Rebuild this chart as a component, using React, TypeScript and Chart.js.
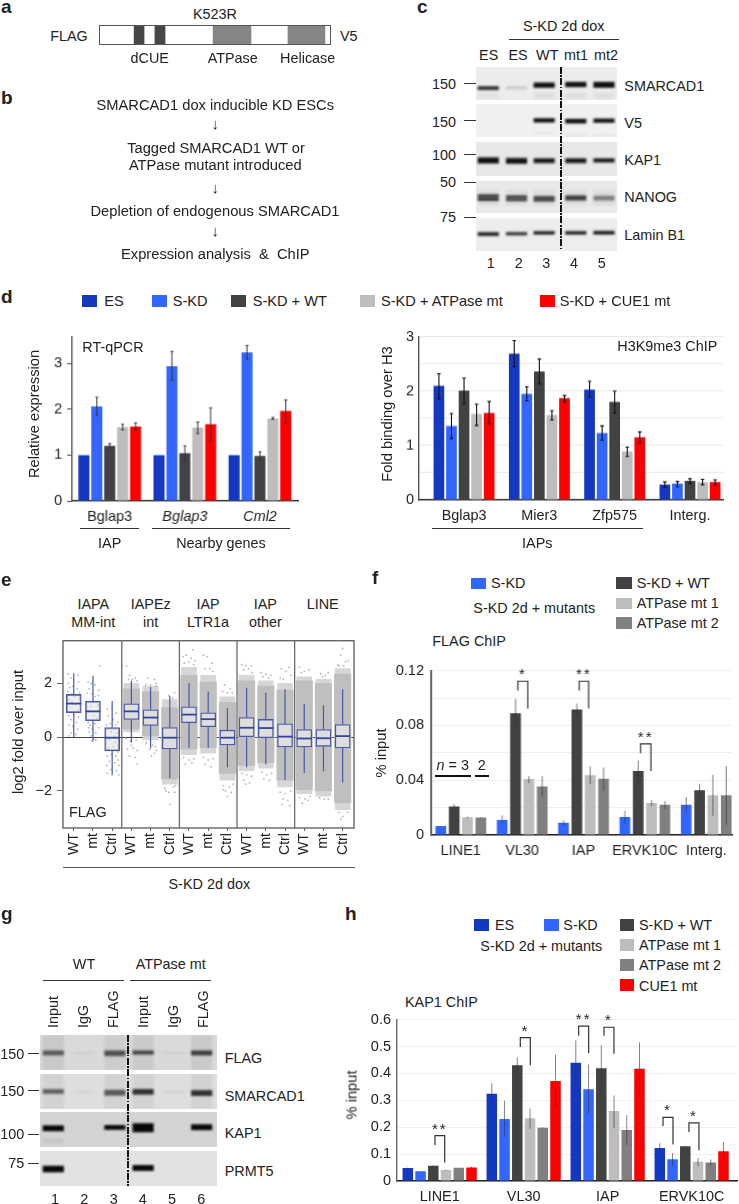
import React, { useEffect, useRef } from "react";
import { Chart, registerables } from "chart.js";

Chart.register(...registerables);
const FONT = '"Liberation Sans", Arial, sans-serif';
Chart.defaults.font.family = FONT;
Chart.defaults.color = "#222";

/* ---------- colours ---------- */
const cES = "#1438c0";
const cSKD = "#3366ff";
const cWT = "#424242";
const cATP = "#bdbdbd";
const cMT2 = "#808080";
const cCUE = "#ff0000";
const boxBlue = "#4a5aa8";

/* ---------- panel d, RT-qPCR ---------- */
const dLeftGroups = ["Bglap3", "Bglap3", "Cml2"];
const dLeftColors = [cES, cSKD, cWT, cATP, cCUE];
const dLeftValues = [
  [1, 1, 1],
  [2.06, 2.94, 3.24],
  [1.2, 1.04, 0.98],
  [1.61, 1.6, 1.8],
  [1.62, 1.67, 1.96],
];
const dLeftHi = [
  [null, null, null],
  [2.26, 3.26, 3.39],
  [1.25, 1.2, 1.07],
  [1.67, 1.72, 1.82],
  [1.7, 2.03, 2.2],
];
const dLeftLo = [
  [null, null, null],
  [1.87, 2.63, 3.09],
  [1.15, 0.88, 0.88],
  [1.55, 1.47, 1.78],
  [1.55, 1.32, 1.7],
];

/* ---------- panel d, H3K9me3 ---------- */
const dRightGroups = ["Bglap3", "Mier3", "Zfp575", "Interg."];
const dRightValues = [
  [2.1, 2.69, 2.03, 0.28],
  [1.36, 1.95, 1.23, 0.3],
  [2.01, 2.36, 1.8, 0.35],
  [1.58, 1.56, 0.89, 0.33],
  [1.6, 1.87, 1.15, 0.33],
];
const dRightHi = [
  [2.32, 2.93, 2.18, 0.33],
  [1.59, 2.08, 1.36, 0.34],
  [2.24, 2.59, 2.0, 0.39],
  [1.76, 1.64, 0.97, 0.38],
  [1.81, 1.92, 1.25, 0.37],
];
const dRightLo = [
  [1.86, 2.45, 1.89, 0.23],
  [1.13, 1.82, 1.1, 0.24],
  [1.77, 2.13, 1.6, 0.3],
  [1.37, 1.47, 0.8, 0.28],
  [1.4, 1.8, 1.05, 0.28],
];

/* ---------- panel e ---------- */
const ePositions = [1, 2, 3, 4, 5, 6, 7, 8, 9, 10, 11, 12, 13, 14, 15];
const eTickLabels = ["WT", "mt", "Ctrl", "WT", "mt", "Ctrl", "WT", "mt", "Ctrl", "WT", "mt", "Ctrl", "WT", "mt", "Ctrl"];
const eQ1 = [0.91, 0.61, -0.51, 0.66, 0.44, -0.44, 0.54, 0.39, -0.29, 0, -0.02, -0.36, -0.36, -0.34, -0.4];
const eQ3 = [1.59, 1.34, 0.36, 1.24, 1.02, 0.36, 1.13, 0.91, 0.26, 0.73, 0.66, 0.5, 0.28, 0.28, 0.47];
const eMedian = [1.25, 0.96, -0.02, 0.96, 0.73, -0.02, 0.84, 0.67, -0.02, 0.35, 0.34, 0.02, -0.05, -0.04, 0.04];
const eWhiskerTop = [2.38, 2.29, 1.35, 2.1, 1.87, 1.53, 2.02, 1.7, 1.09, 1.84, 1.65, 1.78, 1.23, 1.19, 1.78];
const eWhiskerBottom = [0, -0.15, -1.39, -0.2, -0.41, -1.53, -0.39, -0.39, -1.12, -1.12, -1.02, -1.6, -1.33, -1.27, -1.69];
const eCloudPositions = [4, 5, 6, 7, 8, 9, 10, 11, 12, 13, 14, 15];
const eFringeTop = [2.0, 1.9, 1.4, 2.6, 2.3, 1.5, 2.3, 2.1, 2.0, 2.25, 2.15, 2.55];
const eFringeBottom = [0.2, -0.1, -1.75, -0.65, -0.6, -1.6, -1.25, -1.15, -1.85, -2.1, -2.2, -2.7];
const eCoreTop = [1.8, 1.7, 1.1, 2.3, 2.05, 1.3, 2.1, 1.9, 1.75, 2.1, 2.0, 2.35];
const eCoreBottom = [0.3, 0.05, -1.55, -0.45, -0.4, -1.35, -1.05, -0.95, -1.6, -1.95, -2.0, -2.45];
const eSeparators = [3.5, 6.5, 9.5, 12.5];
const eStrayPoints = [
  [0.72,2.35],[0.85,2.2],[1.22,2.3],[0.72,2.0],[1.25,2.05],[0.8,1.85],[1.18,1.8],[0.7,1.7],[0.95,1.9],[1.3,1.65],[0.75,1.4],[0.9,1.3],[1.1,1.2],[1.2,1.0],[0.8,1.1],[1.0,0.85],[0.72,0.8],[1.25,0.75],[0.85,0.65],[1.15,0.55],[0.75,0.45],[0.95,0.4],[1.2,0.3],[0.85,0.15],[1.1,0.1],[0.75,0.05],[0.9,1.6],[1.05,1.5],[1.28,1.45],[0.82,0.95],
  [2.35,2.65],[1.75,2.05],[1.9,2.0],[2.1,1.95],[1.8,1.8],[2.3,1.75],[1.72,1.65],[1.95,1.6],[2.28,1.55],[2.1,1.5],[2.25,1.2],[1.9,1.15],[2.05,0.8],[2.2,0.7],[1.75,0.55],[1.85,0.45],[2.1,0.5],[2.3,0.35],[1.95,0.3],[1.8,0.2],[2.15,0.15],[1.9,0.05],[2.05,-0.05],[1.95,-0.15],[2.15,-0.1],[1.78,0.35],[2.0,0.95],
  [3.0,1.1],[2.75,1.05],[3.2,0.9],[2.8,0.8],[3.05,0.65],[3.3,0.55],[2.7,0.45],[2.9,0.5],[3.2,0.45],[3.35,0.3],[2.95,0.2],[3.25,0.15],[3.1,0.05],[2.85,-0.1],[3.15,-0.2],[3.32,-0.3],[2.8,-0.4],[3.05,-0.35],[3.3,-0.55],[2.75,-0.7],[2.95,-0.65],[3.2,-0.7],[3.3,-0.85],[2.85,-0.9],[3.15,-0.95],[3.35,-1.05],[2.72,-1.05],[2.95,-1.2],[3.22,-1.25],[3.0,-1.4],[2.75,-1.35],[3.35,-1.4],
  [3.75,2.65],[3.9,2.3],[4.2,2.2],[3.85,2.15],[4.3,2.1],[4.05,2.15],[3.72,-0.05],[4.25,-0.1],[4.0,-0.3],[3.8,-0.45],[4.1,-0.4],[4.3,-0.5],[3.9,-0.7],[4.2,-0.75],[3.95,-0.15],[4.3,-1.0],
  [4.85,2.2],[5.2,2.15],[5.28,2.0],[4.75,1.95],[5.0,1.95],[5.3,1.9],[4.8,-0.2],[5.1,-0.3],[5.25,-0.35],[4.95,-0.45],[5.2,-0.6],[5.05,-0.7],[4.75,-0.25],[5.3,-0.5],
  [6.25,1.65],[5.95,1.55],[6.15,1.45],[5.75,-1.9],[6.2,-1.85],[5.95,-2.05],[6.25,-2.05],[6.0,-2.5],[5.8,-2.0],[6.3,-1.8],
  [6.7,3.0],[6.85,3.05],[7.1,2.95],[7.2,3.25],[7.3,2.85],[6.75,2.75],[7.0,2.8],[7.25,2.7],[6.72,-0.75],[7.0,-0.85],[7.25,-0.8],[6.8,-1.0],[7.15,-0.95],
  [7.75,3.05],[7.95,3.0],[8.2,2.75],[8.1,2.55],[7.85,2.55],[8.25,2.45],[7.75,-0.75],[8.0,-0.85],[8.25,-0.8],[7.85,-1.0],[8.15,-1.1],
  [8.85,1.95],[9.15,1.8],[8.75,1.7],[9.0,1.65],[9.25,1.65],[8.8,-1.8],[9.1,-1.85],[9.3,-1.75],[8.9,-2.0],[9.2,-2.05],[9.0,-2.2],[8.78,-1.95],
  [9.75,2.7],[9.95,2.65],[10.25,2.65],[10.1,2.55],[9.85,2.5],[10.3,2.4],[9.75,-1.35],[10,-1.4],[10.25,-1.45],[9.85,-1.6],[10.15,-1.7],[9.95,-1.75],
  [10.75,2.4],[11.0,2.35],[11.25,2.3],[10.85,2.25],[11.15,2.2],[10.8,-1.3],[11.05,-1.4],[11.3,-1.35],[10.9,-1.55],[11.2,-1.6],
  [11.8,2.55],[12.2,2.6],[12.05,2.45],[11.75,2.2],[12.3,2.3],[11.9,2.15],[11.75,-2.05],[12.0,-2.1],[12.3,-2.0],[11.9,-2.3],[12.15,-2.35],[11.85,-2.5],[12.25,-2.55],
  [12.75,2.6],[13.0,2.45],[13.25,2.5],[12.85,2.4],[12.75,-2.25],[13.05,-2.3],[13.3,-2.2],[12.9,-2.45],[13.2,-2.35],
  [13.85,2.35],[14.1,2.3],[14.25,2.4],[13.95,2.25],[13.8,-2.25],[14.05,-2.3],[14.25,-2.3],
  [14.8,2.65],[15.0,3.3],[14.9,3.05],[15.15,2.8],[15.3,2.85],[14.75,2.7],[15.05,2.65],[14.8,-2.8],[15.0,-2.95],[15.25,-2.8],[14.9,-3.05],
];

/* ---------- panel f ---------- */
const fGroups = ["LINE1", "VL30", "IAP", "ERVK10C", "Interg."];
const fColors = [cSKD, cWT, cATP, cMT2];
const fValues = [
  [0.0066, 0.011, 0.0089, 0.0132, 0.0221],
  [0.0209, 0.089, 0.0917, 0.0468, 0.0327],
  [0.0129, 0.0409, 0.0437, 0.0233, 0.0291],
  [0.0127, 0.0355, 0.0411, 0.0221, 0.0291],
];
const fHi = [
  [null, 0.0143, 0.0108, 0.0176, 0.0277],
  [0.0226, 0.0994, 0.096, 0.0543, 0.0374],
  [0.0134, 0.043, 0.05, 0.0254, 0.0439],
  [0.013, 0.043, 0.0494, 0.0249, 0.0503],
];
const fLo = [
  [null, 0.0085, 0.007, 0.0085, 0.0167],
  [0.0193, 0.079, 0.0865, 0.039, 0.028],
  [0.0122, 0.0378, 0.0371, 0.0212, 0.0141],
  [0.0124, 0.028, 0.0327, 0.019, 0.0075],
];
const fBrackets = [
  { x0: 1.929, y0: 0.1055, x1: 2.092, y1: 0.0924, top: 0.1123, label: "*" },
  { x0: 2.929, y0: 0.1055, x1: 3.082, y1: 0.0924, top: 0.1123, label: "**" },
  { x0: 3.929, y0: 0.0597, x1: 4.098, y1: 0.0468, top: 0.0665, label: "**" },
];

/* ---------- panel h ---------- */
const hGroups = ["LINE1", "VL30", "IAP", "ERVK10C"];
const hColors = [cES, cSKD, cWT, cATP, cMT2, cCUE];
const hValues = [
  [0.048, 0.325, 0.44, 0.123],
  [0.036, 0.231, 0.341, 0.081],
  [0.0566, 0.431, 0.419, 0.129],
  [0.041, 0.233, 0.26, 0.072],
  [0.049, 0.198, 0.19, 0.069],
  [0.05, 0.372, 0.418, 0.111],
];
const hHi = [
  [0.05, 0.364, 0.523, 0.141],
  [0.037, 0.298, 0.433, 0.104],
  [0.058, 0.46, 0.505, 0.131],
  [0.043, 0.269, 0.318, 0.086],
  [null, 0.2, 0.245, 0.08],
  [0.053, 0.47, 0.516, 0.145],
];
const hLo = [
  [0.046, 0.287, 0.357, 0.105],
  [0.035, 0.164, 0.251, 0.055],
  [0.055, 0.401, 0.329, 0.127],
  [0.039, 0.194, 0.196, 0.055],
  [null, 0.196, 0.134, 0.057],
  [0.047, 0.269, 0.317, 0.075],
];
const hBrackets = [
  { x0: 0.944, y0: 0.134, x1: 1.06, y1: 0.069, top: 0.169, label: "**" },
  { x0: 1.96, y0: 0.498, x1: 2.079, y1: 0.431, top: 0.533, label: "*" },
  { x0: 2.655, y0: 0.54, x1: 2.774, y1: 0.476, top: 0.576, label: "**" },
  { x0: 2.956, y0: 0.54, x1: 3.075, y1: 0.473, top: 0.572, label: "*" },
  { x0: 3.659, y0: 0.205, x1: 3.778, y1: 0.136, top: 0.237, label: "*" },
  { x0: 3.968, y0: 0.182, x1: 4.087, y1: 0.114, top: 0.216, label: "*" },
];

/* ---------- panel a, domains along the protein (% of length) ---------- */
const domainRanges = [
  [15.2, 19.5],
  [24.2, 28.6],
  [49.4, 65.8],
  [81.8, 97.8],
];
const domainColors = ["#474747", "#474747", "#858585", "#858585"];

/* ---------- blots: [lane, from %, to %, density] ---------- */
const cLanes = [1, 2, 2.98, 4.1, 5.1];
const cSmarcad1 = [[1,59,69,0.8],[2,59,67,0.14],[3,48,62,0.97],[4,46,60,0.97],[5,46,62,0.97],[1,78,96,0.04],[3,78,96,0.05],[4,78,96,0.05],[5,78,96,0.05]];
const cV5 = [[3,44,55,0.97],[4,46,58,0.97],[5,45,56,0.95],[3,86,89,0.05],[4,93,97,0.07],[5,92,96,0.05]];
const cKap1 = [[1,46,62,0.97],[2,48,63,0.97],[3,49,61,0.95],[4,49,61,0.95],[5,49,59,0.95]];
const cNanog = [[1,30,75,0.05],[2,30,75,0.05],[3,30,75,0.05],[4,30,75,0.05],[5,30,75,0.05],[1,43,50,0.85],[1,54,61,0.85],[2,46,52,0.8],[2,56,62,0.8],[3,48,54,0.75],[3,57,63,0.8],[4,46,60,0.75],[5,47,60,0.45]];
const cLamin = [[1,44,53,0.95],[2,44,51,0.9],[3,41,49,0.95],[4,41,49,0.95],[5,40,49,0.95]];
const gLanes = [1, 2.02, 3.05, 3.99, 4.99, 5.94];
const gFlag = [[1,0,100,0.08],[3,0,100,0.06],[4,0,100,0.07],[6,0,100,0.07],[1,45,57,0.6],[2,50,56,0.05],[3,45,59,0.65],[4,45,55,0.7],[5,49,55,0.05],[6,45,57,0.75]];
const gSmarcad1 = [[1,0,100,0.05],[3,0,100,0.05],[4,0,100,0.05],[6,0,100,0.05],[1,44,56,0.55],[2,48,54,0.04],[3,46,61,0.6],[4,44,58,0.8],[5,49,54,0.06],[6,47,62,0.8]];
const gKap1 = [[1,39,54,1],[3,38,50,1],[4,33,57,1],[6,36,51,1],[1,75,90,0.06]];
const gPrmt5 = [[1,43,60,1],[4,41,56,1]];

/* ---------- plugins ---------- */
const errorBars = {
  id: "errorBars",
  afterDatasetsDraw(chart: any, _a: any, o: any) {
    const { ctx, scales } = chart;
    ctx.save();
    ctx.strokeStyle = o.color;
    ctx.lineWidth = o.width;
    chart.data.datasets.forEach((ds: any, di: number) => {
      if (!ds.errHi) return;
      const meta = chart.getDatasetMeta(di);
      meta.data.forEach((bar: any, i: number) => {
        const hi = ds.errHi[i];
        const lo = ds.errLo[i];
        if (hi == null || lo == null) return;
        const yh = scales.y.getPixelForValue(hi);
        const yl = scales.y.getPixelForValue(lo);
        ctx.beginPath();
        ctx.moveTo(bar.x, yh);
        ctx.lineTo(bar.x, yl);
        if (o.cap) {
          ctx.moveTo(bar.x - o.cap, yh);
          ctx.lineTo(bar.x + o.cap, yh);
          ctx.moveTo(bar.x - o.cap, yl);
          ctx.lineTo(bar.x + o.cap, yl);
        }
        ctx.stroke();
      });
    });
    ctx.restore();
  },
};

const brackets = {
  id: "brackets",
  afterDatasetsDraw(chart: any, _a: any, o: any) {
    if (!o.items) return;
    const { ctx, scales } = chart;
    ctx.save();
    ctx.strokeStyle = "#333";
    ctx.lineWidth = 1.2;
    ctx.fillStyle = "#222";
    ctx.font = `15px ${FONT}`;
    ctx.textAlign = "center";
    (ctx as any).letterSpacing = "2px";
    o.items.forEach((b: any) => {
      const x0 = scales.x.getPixelForValue(b.x0);
      const x1 = scales.x.getPixelForValue(b.x1);
      const t = scales.y.getPixelForValue(b.top);
      ctx.beginPath();
      ctx.moveTo(x0, scales.y.getPixelForValue(b.y0));
      ctx.lineTo(x0, t);
      ctx.lineTo(x1, t);
      ctx.lineTo(x1, scales.y.getPixelForValue(b.y1));
      ctx.stroke();
      ctx.fillText(b.label, (x0 + x1) / 2, t - 2);
    });
    ctx.restore();
  },
};

const boxParts = {
  id: "boxParts",
  beforeDatasetsDraw(chart: any) {
    const { ctx, chartArea: a, scales } = chart;
    ctx.save();
    ctx.strokeStyle = "#6a6a6a";
    ctx.lineWidth = 1.3;
    eSeparators.forEach((v) => {
      const x = scales.x.getPixelForValue(v);
      ctx.beginPath();
      ctx.moveTo(x, a.top);
      ctx.lineTo(x, a.bottom);
      ctx.stroke();
    });
    ctx.restore();
  },
  afterDatasetsDraw(chart: any) {
    const { ctx, chartArea: a, scales } = chart;
    ctx.save();
    ctx.strokeStyle = boxBlue;
    ctx.lineWidth = 1.2;
    ePositions.forEach((p, i) => {
      const x = scales.x.getPixelForValue(p);
      ctx.beginPath();
      ctx.moveTo(x, scales.y.getPixelForValue(eWhiskerTop[i]));
      ctx.lineTo(x, scales.y.getPixelForValue(eQ3[i]));
      ctx.moveTo(x, scales.y.getPixelForValue(eQ1[i]));
      ctx.lineTo(x, scales.y.getPixelForValue(eWhiskerBottom[i]));
      ctx.stroke();
    });
    ctx.strokeStyle = "#33469e";
    ctx.lineWidth = 1.8;
    ePositions.forEach((p, i) => {
      const x = scales.x.getPixelForValue(p);
      const y = scales.y.getPixelForValue(eMedian[i]);
      ctx.beginPath();
      ctx.moveTo(x - 7.5, y);
      ctx.lineTo(x + 7.5, y);
      ctx.stroke();
    });
    ctx.strokeStyle = "#666";
    ctx.lineWidth = 1.4;
    ctx.strokeRect(a.left, a.top, a.right - a.left, a.bottom - a.top);
    ctx.restore();
  },
};

/* ---------- chart builders ---------- */
function groupedBars(c: any) {
  const { plot, ml, mr, mt, mb } = c;
  return {
    box: { left: plot.l - ml, top: plot.t - mt, width: plot.r - plot.l + ml + mr, height: plot.b - plot.t + mt + mb },
    config: {
      type: "bar",
      data: {
        datasets: c.values.map((vals: number[], s: number) => ({
          data: vals.map((v, i) => ({ x: i + 1, y: v })),
          backgroundColor: c.colors[s],
          errHi: c.hi[s],
          errLo: c.lo[s],
          categoryPercentage: c.catPct,
          barPercentage: c.barPct,
        })),
      },
      plugins: [errorBars, brackets],
      options: {
        responsive: false,
        animation: false,
        layout: { padding: { top: mt, right: mr, left: 0, bottom: 0 } },
        plugins: {
          legend: { display: false },
          tooltip: { enabled: false },
          errorBars: c.err,
          brackets: { items: c.brackets },
        },
        scales: {
          x: {
            type: "linear",
            offset: false,
            min: c.xmin,
            max: c.xmax,
            afterFit: (s: any) => { s.height = mb; },
            grid: { display: false, offset: false, drawTicks: false },
            border: { display: true, color: c.xBorder || "#333", width: 1.4 },
            ticks: {
              stepSize: 1,
              includeBounds: false,
              autoSkip: false,
              maxRotation: 0,
              minRotation: 0,
              padding: c.xPad,
              color: "#222",
              font: c.xFont || { size: 14.4 },
              callback: (v: number) => c.groups[v - 1] ?? "",
            },
          },
          y: {
            min: c.ymin,
            max: c.ymax,
            afterFit: (s: any) => { s.width = ml; },
            grid: {
              color: (ctx: any) => c.gridColor,
              drawOnChartArea: !!c.gridColor,
              drawTicks: !!c.tickLen,
              tickLength: c.tickLen || 0,
              tickColor: "#444",
            },
            border: { display: true, color: c.yBorder || "#555", width: c.yBorderWidth || 1.4 },
            ticks: {
              stepSize: c.step,
              includeBounds: false,
              autoSkip: false,
              padding: c.yPad,
              color: "#222",
              font: { size: 14.5 },
              callback: c.yLabel,
            },
          },
        },
      },
    },
  };
}

function blotConfig(rows: number[][], xmin: number, xmax: number, laneX: number[], thickness: number) {
  return {
    type: "bar",
    data: {
      datasets: [
        {
          data: rows.map((r) => ({ x: laneX[r[0] - 1], y: [r[1], r[2]] })),
          backgroundColor: rows.map((r) => `rgba(8,8,8,${r[3]})`),
          barThickness: thickness,
          borderSkipped: false,
        },
      ],
    },
    options: {
      responsive: false,
      animation: false,
      layout: { padding: 0 },
      plugins: { legend: { display: false }, tooltip: { enabled: false } },
      scales: {
        x: { type: "linear", offset: false, min: xmin, max: xmax, display: false, grid: { offset: false } },
        y: { min: 0, max: 100, reverse: true, display: false },
      },
    },
  };
}

const dLeft = groupedBars({
  plot: { l: 72, t: 333.3, r: 297.5, b: 500.7 }, ml: 50, mr: 4, mt: 10, mb: 28,
  groups: dLeftGroups, values: dLeftValues, hi: dLeftHi, lo: dLeftLo, colors: dLeftColors,
  xmin: 0.5, xmax: 3.507, ymin: 0, ymax: 3.58, step: 1, catPct: 0.86, barPct: 0.853,
  err: { color: "#333", width: 1, cap: 1.5 }, xPad: 7, yPad: 5, tickLen: 5, yLabel: (v: number) => String(v),
  xFont: (ctx: any) => ({ size: 14.4, style: ctx.index === 0 ? "normal" : "italic" }),
});
const dRight = groupedBars({
  plot: { l: 418.7, t: 333.3, r: 722.7, b: 500 }, ml: 30, mr: 8, mt: 10, mb: 28,
  groups: dRightGroups, values: dRightValues, hi: dRightHi, lo: dRightLo, colors: dLeftColors,
  xmin: 0.402, xmax: 4.438, ymin: 0, ymax: 3, step: 0.5, catPct: 0.834, barPct: 0.85, gridColor: "#e9e9e9",
  err: { color: "#111", width: 1.1, cap: 1.8 }, xPad: 7, yPad: 5,
  yLabel: (v: number) => (Number.isInteger(v) ? String(v) : ""),
});
const fChart = groupedBars({
  plot: { l: 431, t: 665, r: 731.7, b: 835.3 }, ml: 50, mr: 6, mt: 10, mb: 26,
  groups: fGroups, values: fValues, hi: fHi, lo: fLo, colors: fColors, brackets: fBrackets,
  xmin: 0.516, xmax: 5.42, ymin: 0, ymax: 0.12, step: 0.02, catPct: 0.87, barPct: 0.8, gridColor: "#efefef",
  err: { color: "rgba(50,50,50,0.65)", width: 1, cap: 0 }, xPad: 7, yPad: 7, yBorder: "#666", yBorderWidth: 2, xBorder: "#222",
  yLabel: (v: number) => {
    const k = Math.round(v * 100);
    return v === 0 ? "0" : k % 4 === 0 ? (k / 100).toFixed(2) : "";
  },
});
const hChart = groupedBars({
  plot: { l: 396.7, t: 1015, r: 736.7, b: 1181 }, ml: 50, mr: 2, mt: 10, mb: 23,
  groups: hGroups, values: hValues, hi: hHi, lo: hLo, colors: hColors, brackets: hBrackets,
  xmin: 0.492, xmax: 4.54, ymin: 0, ymax: 0.6, step: 0.1, catPct: 0.91, barPct: 0.825, gridColor: "#efefef",
  err: { color: "rgba(50,50,50,0.6)", width: 1, cap: 0 }, xPad: 7, yPad: 6, yBorder: "#666", xBorder: "#222",
  yLabel: (v: number) => (v === 0 ? "0" : v.toFixed(1)),
});

const eChart = {
  box: { left: 23, top: 627, width: 339, height: 240 },
  config: {
    type: "bar",
    data: {
      datasets: [
        {
          data: ePositions.map((p, i) => ({ x: p, y: [eQ1[i], eQ3[i]] })),
          backgroundColor: ePositions.map((p) => (p < 4 ? "rgba(224,224,224,0.55)" : "#dedede")),
          borderColor: boxBlue,
          borderWidth: 1.3,
          borderSkipped: false,
          barThickness: 15,
          grouped: false,
          order: 1,
        },
        {
          type: "scatter",
          data: eStrayPoints.map((p) => ({ x: p[0], y: p[1] })),
          backgroundColor: "#b4b4b4",
          pointRadius: 0.9,
          pointBorderWidth: 0,
          order: 2,
        },
        {
          data: eCloudPositions.map((p, i) => ({ x: p, y: [eCoreBottom[i], eCoreTop[i]] })),
          backgroundColor: "#bfbfbf",
          borderSkipped: false,
          barThickness: 16.5,
          grouped: false,
          order: 3,
        },
        {
          data: eCloudPositions.map((p, i) => ({ x: p, y: [eFringeBottom[i], eFringeTop[i]] })),
          backgroundColor: "#d6d6d6",
          borderSkipped: false,
          barThickness: 15,
          grouped: false,
          order: 4,
        },
      ],
    },
    plugins: [boxParts],
    options: {
      responsive: false,
      animation: false,
      layout: { padding: { top: 10, right: 8, left: 0, bottom: 0 } },
      plugins: { legend: { display: false }, tooltip: { enabled: false } },
      scales: {
        x: {
          type: "linear",
          offset: false,
          min: 0.44,
          max: 15.59,
          afterFit: (s: any) => { s.height = 39; },
          grid: { display: true, drawOnChartArea: false, offset: false, tickLength: 3, tickColor: "#666" },
          border: { display: false },
          ticks: {
            stepSize: 1,
            includeBounds: false,
            autoSkip: false,
            minRotation: 90,
            maxRotation: 90,
            padding: 2,
            color: "#222",
            font: { size: 14.2 },
            callback: (v: number) => eTickLabels[v - 1] ?? "",
          },
        },
        y: {
          min: -3.38,
          max: 3.59,
          afterFit: (s: any) => { s.width = 40; },
          grid: {
            color: (ctx: any) => (ctx.tick && ctx.tick.value === 0 ? "#444" : "rgba(0,0,0,0)"),
            tickColor: "#666",
            tickLength: 6,
          },
          border: { display: false },
          ticks: {
            stepSize: 2,
            includeBounds: false,
            autoSkip: false,
            padding: 5,
            color: "#222",
            font: { size: 14.5 },
            callback: (v: number) => (v < 0 ? "\u2212" + Math.abs(v) : String(v)),
          },
        },
      },
    },
  },
};

const domainChart = {
  box: { left: 99, top: 25, width: 231, height: 19 },
  config: {
    type: "bar",
    data: {
      labels: ["SMARCAD1"],
      datasets: domainRanges.map((r, i) => ({
        data: [r],
        backgroundColor: domainColors[i],
        grouped: false,
        barPercentage: 1,
        categoryPercentage: 1,
      })),
    },
    options: {
      indexAxis: "y",
      responsive: false,
      animation: false,
      layout: { padding: 0 },
      plugins: { legend: { display: false }, tooltip: { enabled: false } },
      scales: {
        x: { type: "linear", min: 0, max: 100, display: false },
        y: { display: false },
      },
    },
  },
};

/* ---------- small drawing components ---------- */
function ChartBox({ spec, style }: any) {
  const ref = useRef<HTMLCanvasElement>(null);
  useEffect(() => {
    const chart = new Chart(ref.current as any, spec.config);
    return () => chart.destroy();
  }, [spec]);
  return (
    <canvas
      ref={ref}
      width={spec.box.width}
      height={spec.box.height}
      style={{ position: "absolute", left: spec.box.left, top: spec.box.top, width: spec.box.width, height: spec.box.height, ...style }}
    />
  );
}

function T({ x, y, a = "l", size = 14.4, bold, italic, children, rot, color = "#222" }: any) {
  const tx = a === "c" ? "-50%" : a === "r" ? "-100%" : "0";
  const style: any = {
    position: "absolute",
    left: x,
    top: y,
    font: `${italic ? "italic " : ""}${bold ? "bold " : ""}${size}px ${FONT}`,
    color,
    whiteSpace: "pre",
    lineHeight: 1.15,
    transform: rot === "c" ? "translate(-50%,-50%) rotate(-90deg)" : `translate(${tx},-50%)`,
  };
  if (rot === "b") {
    style.transform = "rotate(-90deg) translate(0,-50%)";
    style.transformOrigin = "0 0";
  }
  return <div style={style}>{children}</div>;
}

function H({ x0, x1, y, h = 1, color = "#333" }: any) {
  return <div style={{ position: "absolute", left: x0, top: y - h / 2, width: x1 - x0, height: h, background: color }} />;
}

function Swatch({ x, y, color, w = 14.6, h = 11.5 }: any) {
  return <div style={{ position: "absolute", left: x, top: y, width: w, height: h, background: color }} />;
}

function DashDot({ x, y0, y1 }: any) {
  return (
    <div
      style={{
        position: "absolute",
        left: x - 1,
        top: y0,
        width: 2,
        height: y1 - y0,
        background: "repeating-linear-gradient(to bottom,#111 0 7px,transparent 7px 8.5px,#111 8.5px 10px,transparent 10px 11.5px)",
      }}
    />
  );
}

function Strip({ l, t, w, h, bg, rows, xmin, xmax, lanes, thickness }: any) {
  const spec = React.useMemo(
    () => ({ box: { left: 0, top: 0, width: w, height: h }, config: blotConfig(rows, xmin, xmax, lanes, thickness) }),
    []
  );
  return (
    <div style={{ position: "absolute", left: l, top: t, width: w, height: h, background: bg, overflow: "hidden" }}>
      <ChartBox spec={spec} style={{ filter: "blur(1px)" }} />
    </div>
  );
}

export default function App() {
  const cStrip = { l: 476, w: 141.3, xmin: 0.565, xmax: 5.56, lanes: cLanes, thickness: 20.5 };
  const gStrip = { l: 40, w: 177, xmin: 0.557, xmax: 6.45, lanes: gLanes, thickness: 20.5 };
  return (
    <div style={{ position: "absolute", left: 0, top: 0, width: 739, height: 1204, overflow: "hidden", background: "#fff" }}>
      {/* a */}
      <T x={1} y={7} size={19} bold>a</T>
      <T x={215} y={14} a="c">K523R</T>
      <T x={69} y={36} a="c">FLAG</T>
      <T x={340} y={36}>V5</T>
      <ChartBox spec={domainChart} />
      <div style={{ position: "absolute", left: 98.5, top: 24.5, width: 230, height: 18, border: "1.5px solid #555" }} />
      <T x={149.7} y={58} a="c">dCUE</T>
      <T x={232.7} y={58} a="c">ATPase</T>
      <T x={307.7} y={58} a="c">Helicase</T>

      {/* b */}
      <T x={1} y={98} size={19} bold>b</T>
      <T x={215.3} y={104.7} a="c" size={14.7}>SMARCAD1 dox inducible KD ESCs</T>
      <T x={215.3} y={124} a="c" size={15}>↓</T>
      <T x={216} y={147.7} a="c" size={14.7}>Tagged SMARCAD1 WT or</T>
      <T x={215.3} y={165.3} a="c" size={14.7}>ATPase mutant introduced</T>
      <T x={215.3} y={188} a="c" size={15}>↓</T>
      <T x={215} y={210.7} a="c" size={14.7}>Depletion of endogenous SMARCAD1</T>
      <T x={215.3} y={230.7} a="c" size={15}>↓</T>
      <T x={215.3} y={254} a="c" size={14.7}>{"Expression analysis  &  ChIP"}</T>

      {/* c */}
      <T x={417} y={7} size={19} bold>c</T>
      <T x={563.7} y={26} a="c">S-KD 2d dox</T>
      <H x0={509} x1={619} y={39} />
      <T x={488.7} y={55} a="c">ES</T>
      <T x={518} y={55} a="c">ES</T>
      <T x={547.3} y={55} a="c">WT</T>
      <T x={576} y={55} a="c">mt1</T>
      <T x={606} y={55} a="c">mt2</T>
      <Strip {...cStrip} t={66.7} h={33.3} bg="#ececec" rows={cSmarcad1} />
      <Strip {...cStrip} t={104.3} h={33} bg="#f0f0f0" rows={cV5} />
      <Strip {...cStrip} t={142.3} h={33.7} bg="#e8e8e8" rows={cKap1} />
      <Strip {...cStrip} t={181} h={32.3} bg="#e9e9e9" rows={cNanog} />
      <Strip {...cStrip} t={218.3} h={32.4} bg="#ededed" rows={cLamin} />
      <DashDot x={561} y0={66.7} y1={250.7} />
      <T x={456} y={84.3} a="r">150</T>
      <T x={456} y={121.7} a="r">150</T>
      <T x={456} y={155} a="r">100</T>
      <T x={456} y={182} a="r">50</T>
      <T x={456} y={217.3} a="r">75</T>
      <H x0={464} x1={475.7} y={83.3} />
      <H x0={464} x1={475.7} y={120.7} />
      <H x0={464} x1={475.7} y={154} />
      <H x0={464} x1={475.7} y={182} />
      <H x0={464} x1={475.7} y={217} />
      <T x={624.3} y={85.7}>SMARCAD1</T>
      <T x={624.3} y={122.7}>V5</T>
      <T x={624.3} y={160}>KAP1</T>
      <T x={624.3} y={197.3}>NANOG</T>
      <T x={624.3} y={234.7}>Lamin B1</T>
      <T x={490.7} y={263.3} a="c">1</T>
      <T x={518.7} y={263.3} a="c">2</T>
      <T x={546.3} y={263.3} a="c">3</T>
      <T x={574} y={263.3} a="c">4</T>
      <T x={601.7} y={263.3} a="c">5</T>

      {/* d */}
      <T x={1} y={297} size={19} bold>d</T>
      <Swatch x={82.3} y={295.3} color={cES} />
      <T x={104.3} y={300.7} size={14.6}>ES</T>
      <Swatch x={152.3} y={295.3} color={cSKD} />
      <T x={172.7} y={300.7} size={14.6}>S-KD</T>
      <Swatch x={231.3} y={295.3} color={cWT} />
      <T x={252.7} y={300.7} size={14.6}>S-KD + WT</T>
      <Swatch x={360.3} y={295.3} color={cATP} />
      <T x={381} y={300.7} size={14.6}>S-KD + ATPase mt</T>
      <Swatch x={540.3} y={295.3} color={cCUE} />
      <T x={559.7} y={300.7} size={14.6}>S-KD + CUE1 mt</T>
      <ChartBox spec={dLeft} />
      <T x={82.3} y={346.7}>RT-qPCR</T>
      <T x={34.3} y={414.3} rot="c" size={14.7}>Relative expression</T>
      <H x0={80} x1={139.3} y={528.7} />
      <H x0={152} x1={290} y={528.7} />
      <T x={109.7} y={542.7} a="c">IAP</T>
      <T x={221} y={542.7} a="c">Nearby genes</T>
      <ChartBox spec={dRight} />
      <T x={717.3} y={346} a="r">H3K9me3 ChIP</T>
      <T x={387.3} y={414.3} rot="c" size={14.7}>Fold binding over H3</T>
      <H x0={432.3} x1={642.7} y={528.7} />
      <T x={537.3} y={542.7} a="c">IAPs</T>

      {/* e */}
      <T x={1} y={580} size={19} bold>e</T>
      <T x={93.3} y={604} a="c">IAPA</T>
      <T x={93.3} y={621.7} a="c">MM-int</T>
      <T x={150.7} y={604} a="c">IAPEz</T>
      <T x={150.7} y={621.7} a="c">int</T>
      <T x={208} y={604} a="c">IAP</T>
      <T x={208} y={621.7} a="c">LTR1a</T>
      <T x={265.3} y={604} a="c">IAP</T>
      <T x={265.3} y={621.7} a="c">other</T>
      <T x={322.7} y={604} a="c">LINE</T>
      <ChartBox spec={eChart} />
      <T x={18.3} y={731.7} rot="c" size={14.7}>log2 fold over input</T>
      <T x={69} y={812}>FLAG</T>
      <H x0={63.3} x1={355.3} y={867.7} color="#555" />
      <T x={209.3} y={884} a="c">S-KD 2d dox</T>

      {/* f */}
      <T x={372} y={578} size={19} bold>f</T>
      <Swatch x={471} y={577.7} color={cSKD} />
      <T x={491} y={583.3}>S-KD</T>
      <T x={534.3} y={608} a="c">S-KD 2d + mutants</T>
      <Swatch x={616} y={577.3} color={cWT} w={15.6} />
      <Swatch x={616} y={597.7} color={cATP} w={15.6} />
      <Swatch x={616} y={617.3} color={cMT2} w={15.6} />
      <T x={636.7} y={583}>S-KD + WT</T>
      <T x={636.7} y={603}>ATPase mt 1</T>
      <T x={636.7} y={623.3}>ATPase mt 2</T>
      <T x={432.3} y={641.3}>FLAG ChIP</T>
      <ChartBox spec={fChart} />
      <T x={380.7} y={753.3} rot="c" size={14.7}>% input</T>
      <T x={452.7} y={765} a="c"><i>n</i> = 3</T>
      <H x0={435} x1={470.7} y={775.7} h={2} color="#111" />
      <T x={481.7} y={765} a="c">2</T>
      <H x0={475.3} x1={488.7} y={775.7} h={2} color="#111" />

      {/* g */}
      <T x={1} y={914} size={19} bold>g</T>
      <T x={84} y={964} a="c">WT</T>
      <H x0={43.3} x1={124.3} y={980.3} />
      <T x={170.7} y={964} a="c">ATPase mt</T>
      <H x0={130} x1={211.3} y={980.3} />
      <T x={53.3} y={1027.7} rot="b">Input</T>
      <T x={83.3} y={1027.7} rot="b">IgG</T>
      <T x={113.3} y={1027.7} rot="b">FLAG</T>
      <T x={143.3} y={1027.7} rot="b">Input</T>
      <T x={173.3} y={1027.7} rot="b">IgG</T>
      <T x={203.3} y={1027.7} rot="b">FLAG</T>
      <Strip {...gStrip} t={1035.3} h={34.7} bg="#d9d9d9" rows={gFlag} />
      <Strip {...gStrip} t={1073.7} h={35} bg="#dedede" rows={gSmarcad1} />
      <Strip {...gStrip} t={1112} h={35.3} bg="#d4d4d4" rows={gKap1} />
      <Strip {...gStrip} t={1150.7} h={35} bg="#e2e2e2" rows={gPrmt5} />
      <DashDot x={128} y0={1035} y1={1186} />
      <T x={24.3} y={1053.7} a="r">150</T>
      <T x={24.3} y={1090.7} a="r">150</T>
      <T x={24.3} y={1134.3} a="r">100</T>
      <T x={24.3} y={1163} a="r">75</T>
      <H x0={28} x1={39.3} y={1053} />
      <H x0={28} x1={39.3} y={1090} />
      <H x0={28} x1={39.3} y={1134} />
      <H x0={28} x1={39.3} y={1163} />
      <T x={224.7} y={1058}>FLAG</T>
      <T x={224.7} y={1095.7}>SMARCAD1</T>
      <T x={224.7} y={1133.3}>KAP1</T>
      <T x={224.7} y={1170.7}>PRMT5</T>
      <T x={55} y={1199.3} a="c">1</T>
      <T x={84.3} y={1199.3} a="c">2</T>
      <T x={113.7} y={1199.3} a="c">3</T>
      <T x={142.7} y={1199.3} a="c">4</T>
      <T x={172} y={1199.3} a="c">5</T>
      <T x={201.3} y={1199.3} a="c">6</T>

      {/* h */}
      <T x={345} y={914} size={19} bold>h</T>
      <Swatch x={474.3} y={919.3} color={cES} />
      <T x={495} y={924.7}>ES</T>
      <Swatch x={544.3} y={919.3} color={cSKD} />
      <T x={563.3} y={924.7}>S-KD</T>
      <T x={541.3} y={946} a="c">S-KD 2d + mutants</T>
      <Swatch x={619.7} y={919.3} color={cWT} />
      <Swatch x={619.7} y={939.3} color={cATP} />
      <Swatch x={619.7} y={959} color={cMT2} />
      <Swatch x={619.7} y={979.3} color={cCUE} />
      <T x={639} y={924.7}>S-KD + WT</T>
      <T x={639} y={945}>ATPase mt 1</T>
      <T x={639} y={965.3}>ATPase mt 2</T>
      <T x={639} y={986}>CUE1 mt</T>
      <T x={405} y={1002.3}>KAP1 ChIP</T>
      <ChartBox spec={hChart} />
      <T x={352} y={1095} rot="c" size={14.7}>% input</T>
    </div>
  );
}
